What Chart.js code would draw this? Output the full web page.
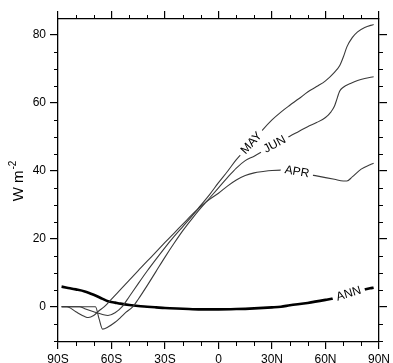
<!DOCTYPE html>
<html>
<head>
<meta charset="utf-8">
<script src="https://cdn.jsdelivr.net/npm/chart.js@4.4.1/dist/chart.umd.min.js"></script>
<style>
  html, body { margin: 0; padding: 0; background: #fff; }
  canvas { display: block; }
</style>
</head>
<body>
<canvas id="fluxChart" width="393" height="363"></canvas>
<script>
// latitude (deg, S negative) and values (W m-2)
const aprLat = [-88,-85,-80,-75,-73,-70,-67,-64,-60,-55,-50,-45,-40,-35,-30,-25,-20,-15,-10,-5,0,5,10,15,20,25,30,35,40,45,50,55,60,65,70,72,75,80,85,87];
const aprVal = [0,0,-1.5,-2.9,-3.2,-2.6,-1.2,0,2.2,5,7.8,10.6,13.4,16.1,18.9,21.6,24.3,27,29.5,31.6,33.4,35.5,37.3,38.6,39.4,39.8,40.1,40.2,40,39.6,39,38.5,38,37.5,37,37,38.2,40.5,41.8,42.2];

const mayLat = [-88,-78,-75,-70,-65,-62,-58,-54,-50,-45,-40,-35,-30,-25,-20,-15,-10,-5,0,5,10,15,20,25,30,35,40,45,50,55,60,65,68,70,72,75,78,82,87];
const mayVal = [0,0,-0.6,-1.5,-2.3,-2.6,-1.8,0,3,6.8,10.5,14,17.4,20.6,23.6,26.6,29.8,33,36.5,39.8,43.3,46.2,49,52.2,55,57.3,59.3,61.2,63.2,64.8,66.5,69,71,73.5,76.5,79.2,80.9,82.2,83.1];

const junLat = [-88,-69,-67,-65,-62,-58,-55,-52,-48,-45,-40,-35,-30,-25,-20,-15,-10,-5,0,5,10,15,20,25,30,35,40,45,50,55,60,63,65,66,68,70,74,78,82,87];
const junVal = [0,0,-3.5,-6.6,-6,-4.6,-3.2,-1.7,0,2.2,6.2,10.4,14.6,18.6,22.4,25.8,29,32,35,38,40.8,43,44.3,45.8,47.3,48.7,50.2,51.6,53,54.2,55.7,57.3,59,60.5,63.5,64.6,65.7,66.6,67.2,67.7];

const annLat = [-88,-85,-80,-75,-70,-65,-62,-58,-55,-50,-45,-40,-35,-30,-20,-10,0,10,20,30,35,40,50,60,65,70,75,80,85,87];
const annVal = [5.9,5.6,5.1,4.5,3.5,2.3,1.6,1.2,0.9,0.5,0.2,0,-0.2,-0.4,-0.6,-0.8,-0.8,-0.7,-0.5,-0.2,0,0.4,1.1,2,2.5,3.3,4.1,4.8,5.4,5.6];

const seriesNames = ['APR', 'MAY', 'JUN', 'ANN'];
const labelLat = [44, 18.5, 31.5, 73];   // where each inline label sits

const xTickVals = [-90, -60, -30, 0, 30, 60, 90];
const xTickLabels = ['90S', '60S', '30S', '0', '30N', '60N', '90N'];
const yTickVals = [0, 20, 40, 60, 80];
const yTickLabels = ['0', '20', '40', '60', '80'];

const FONT = "'Liberation Sans', Arial, Helvetica, sans-serif";
const lats = [aprLat, mayLat, junLat, annLat];
const vals = [aprVal, mayVal, junVal, annVal];

function toPoints(la, va) {
    return la.map((x, i) => ({ x: x, y: va[i] }));
}

function interp(la, va, x) {
    for (let i = 1; i < la.length; i++) {
        if (x <= la[i]) {
            const t = (x - la[i - 1]) / (la[i] - la[i - 1]);
            return va[i - 1] + t * (va[i] - va[i - 1]);
        }
    }
    return va[va.length - 1];
}

// label geometry in pixels, through the chart scales
function labelBox(chart, i) {
    const xs = chart.scales.x, ys = chart.scales.y;
    const lat = labelLat[i];
    const px = (l) => ({ x: xs.getPixelForValue(l), y: ys.getPixelForValue(interp(lats[i], vals[i], l)) });
    const c = px(lat), a = px(lat - 3), b = px(lat + 3);
    const ang = Math.atan2(b.y - a.y, b.x - a.x);
    chart.ctx.save();
    chart.ctx.font = '12px ' + FONT;
    const w = chart.ctx.measureText(seriesNames[i]).width;
    chart.ctx.restore();
    return { cx: c.x, cy: c.y, ang: ang, hw: w / 2 + 4, hh: 7 };
}

const lineLabels = {
    id: 'lineLabels',
    beforeDatasetDraw(chart, args) {
        const g = labelBox(chart, args.index);
        const ctx = chart.ctx;
        const ux = Math.cos(g.ang), uy = Math.sin(g.ang);
        const vx = -uy, vy = ux;
        ctx.save();
        ctx.beginPath();
        ctx.rect(0, 0, chart.width, chart.height);
        ctx.moveTo(g.cx - g.hw * ux - g.hh * vx, g.cy - g.hw * uy - g.hh * vy);
        ctx.lineTo(g.cx - g.hw * ux + g.hh * vx, g.cy - g.hw * uy + g.hh * vy);
        ctx.lineTo(g.cx + g.hw * ux + g.hh * vx, g.cy + g.hw * uy + g.hh * vy);
        ctx.lineTo(g.cx + g.hw * ux - g.hh * vx, g.cy + g.hw * uy - g.hh * vy);
        ctx.closePath();
        ctx.clip('evenodd');
    },
    afterDatasetDraw(chart) {
        chart.ctx.restore();
    },
    afterDatasetsDraw(chart) {
        const ctx = chart.ctx;
        seriesNames.forEach((name, i) => {
            const g = labelBox(chart, i);
            ctx.save();
            ctx.translate(g.cx, g.cy);
            ctx.rotate(g.ang);
            ctx.font = '12px ' + FONT;
            ctx.fillStyle = '#000';
            ctx.textAlign = 'center';
            ctx.textBaseline = 'middle';
            ctx.fillText(name, 0, 0);
            ctx.restore();
        });
    }
};

// minor ticks on all four sides + y axis title with superscript
const frameExtras = {
    id: 'frameExtras',
    afterDraw(chart) {
        const ctx = chart.ctx;
        const a = chart.chartArea;
        const xs = chart.scales.x, ys = chart.scales.y;
        ctx.save();
        ctx.strokeStyle = '#000';
        ctx.lineWidth = 1;
        ctx.beginPath();
        for (let l = -80; l <= 80; l += 10) {
            if (l % 30 === 0) continue;
            const p = Math.round(xs.getPixelForValue(l)) + 0.5;
            ctx.moveTo(p, a.bottom); ctx.lineTo(p, a.bottom + 4);
            ctx.moveTo(p, a.top); ctx.lineTo(p, a.top - 4);
        }
        for (let v = -10; v <= 80; v += 5) {
            if (v % 20 === 0) continue;
            const p = Math.round(ys.getPixelForValue(v)) + 0.5;
            ctx.moveTo(a.left - 4, p); ctx.lineTo(a.left, p);
            ctx.moveTo(a.right, p); ctx.lineTo(a.right + 4, p);
        }
        ctx.stroke();

        // "W m-2" rotated
        ctx.translate(23, 181);
        ctx.rotate(-Math.PI / 2);
        ctx.fillStyle = '#000';
        ctx.textBaseline = 'alphabetic';
        ctx.textAlign = 'left';
        ctx.font = '15px ' + FONT;
        const main = 'W m';
        const w1 = ctx.measureText(main).width;
        ctx.font = '10px ' + FONT;
        const w2 = ctx.measureText('-2').width;
        const x0 = -(w1 + w2 + 1) / 2;
        ctx.font = '15px ' + FONT;
        ctx.fillText(main, x0, 0);
        ctx.font = '10px ' + FONT;
        ctx.fillText('-2', x0 + w1 + 1, -7);
        ctx.restore();
    }
};

const tickFont = { size: 12, family: FONT };

function axisGrid(len) {
    return { drawOnChartArea: false, drawTicks: true, tickLength: len, color: '#000', lineWidth: 1.2 };
}

const ctx = document.getElementById('fluxChart').getContext('2d');

const fluxChart = new Chart(ctx, {
    type: 'line',
    data: {
        datasets: seriesNames.map((name, i) => ({
            label: name,
            data: toPoints(lats[i], vals[i]),
            borderColor: name === 'ANN' ? '#000' : '#3a3a3a',
            borderWidth: name === 'ANN' ? 2.6 : 1.1,
            pointRadius: 0,
            fill: false,
            cubicInterpolationMode: 'monotone',
            xAxisID: 'x',
            yAxisID: 'y'
        }))
    },
    options: {
        responsive: false,
        animation: false,
        devicePixelRatio: 1,
        layout: { padding: 0 },
        plugins: {
            legend: { display: false },
            tooltip: { enabled: false }
        },
        scales: {
            x: {
                type: 'linear',
                position: 'bottom',
                min: -90,
                max: 90,
                afterBuildTicks: (s) => { s.ticks = xTickVals.map(v => ({ value: v })); },
                afterFit: (s) => { s.height = 21; },
                grid: axisGrid(7),
                border: { display: true, color: '#000', width: 1.3 },
                ticks: {
                    color: '#000',
                    font: tickFont,
                    padding: 3,
                    maxRotation: 0,
                    autoSkip: false,
                    callback: (v, i) => xTickLabels[i]
                }
            },
            xTop: {
                type: 'linear',
                position: 'top',
                min: -90,
                max: 90,
                afterBuildTicks: (s) => { s.ticks = xTickVals.map(v => ({ value: v })); },
                afterFit: (s) => { s.height = 19; },
                grid: axisGrid(8),
                border: { display: true, color: '#000', width: 1.3 },
                ticks: { display: false }
            },
            y: {
                type: 'linear',
                position: 'left',
                min: -10.4,
                max: 84.7,
                afterBuildTicks: (s) => { s.ticks = yTickVals.map(v => ({ value: v })); },
                afterFit: (s) => { s.width = 58; },
                grid: axisGrid(8),
                border: { display: true, color: '#000', width: 1.3 },
                ticks: {
                    color: '#000',
                    font: tickFont,
                    padding: 4,
                    autoSkip: false,
                    callback: (v, i) => yTickLabels[i]
                }
            },
            yRight: {
                type: 'linear',
                position: 'right',
                min: -10.4,
                max: 84.7,
                afterBuildTicks: (s) => { s.ticks = yTickVals.map(v => ({ value: v })); },
                afterFit: (s) => { s.width = 11; },
                grid: axisGrid(8),
                border: { display: true, color: '#000', width: 1.3 },
                ticks: { display: false }
            }
        }
    },
    plugins: [lineLabels, frameExtras]
});
</script>
</body>
</html>
